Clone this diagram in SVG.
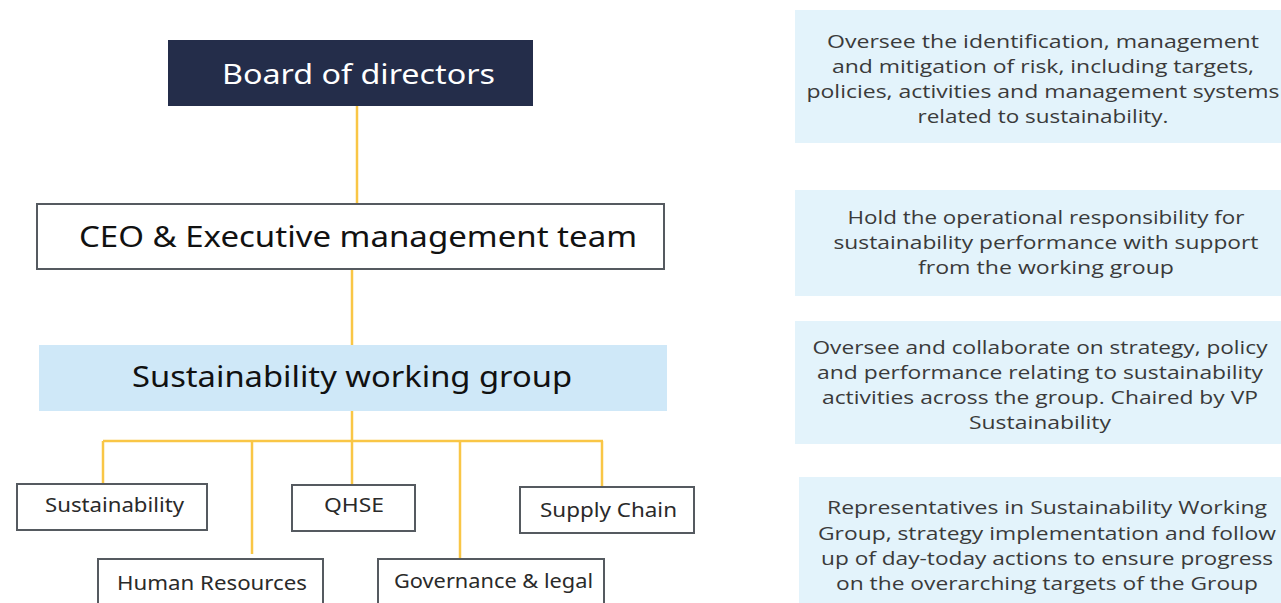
<svg xmlns="http://www.w3.org/2000/svg" width="1281" height="603" viewBox="0 0 1281 603">
  <style>
    .lbl { font-family: "Noto Sans", "Open Sans", sans-serif; fill: #111; }
    .box { fill: #ffffff; stroke: #555a60; stroke-width: 2; }
    .sub { font-family: "Noto Sans", "Open Sans", sans-serif; font-size: 19px; fill: #2a2a2a; }
    .note { fill: #e3f3fb; }
    .noteText { font-family: "Open Sans", "Noto Sans", sans-serif; font-size: 19px; fill: #3a3a3a; text-anchor: middle; }
    .link { fill: none; stroke: #f9c646; stroke-width: 2.5; }
  </style>

  <!-- connectors -->
  <g id="connectors">
    <path class="link" d="M357 106 V203"/>
    <path class="link" d="M352 269 V345"/>
    <path class="link" d="M352 411 V441"/>
    <path class="link" d="M103 441 H603"/>
    <path class="link" d="M103 441 V484"/>
    <path class="link" d="M252 441 V554"/>
    <path class="link" d="M352 441 V485"/>
    <path class="link" d="M460 441 V558"/>
    <path class="link" d="M602 441 V487"/>
  </g>

  <!-- hierarchy -->
  <g id="board">
    <rect x="168" y="40" width="365" height="66" fill="#242d4a"/>
    <text class="lbl" x="222" y="84" font-size="27" style="fill:#ffffff" textLength="273" lengthAdjust="spacingAndGlyphs">Board of directors</text>
  </g>
  <g id="ceo">
    <rect class="box" x="37" y="204" width="627" height="65"/>
    <text class="lbl" x="79" y="247" font-size="29" textLength="558" lengthAdjust="spacingAndGlyphs">CEO &amp; Executive management team</text>
  </g>
  <g id="working-group">
    <rect x="39" y="345" width="628" height="66" fill="#cfe8f8"/>
    <text class="lbl" x="132" y="387" font-size="29" textLength="440" lengthAdjust="spacingAndGlyphs">Sustainability working group</text>
  </g>
  <g id="sustainability">
    <rect class="box" x="17" y="484" width="190" height="46"/>
    <text class="sub" x="45" y="512" textLength="139" lengthAdjust="spacingAndGlyphs">Sustainability</text>
  </g>
  <g id="qhse">
    <rect class="box" x="292" y="485" width="123" height="46"/>
    <text class="sub" x="324" y="512" textLength="60" lengthAdjust="spacingAndGlyphs">QHSE</text>
  </g>
  <g id="supply-chain">
    <rect class="box" x="520" y="487" width="174" height="46"/>
    <text class="sub" x="540" y="517" textLength="137" lengthAdjust="spacingAndGlyphs">Supply Chain</text>
  </g>
  <g id="human-resources">
    <rect class="box" x="98" y="559" width="225" height="50"/>
    <text class="sub" x="117" y="590" textLength="190" lengthAdjust="spacingAndGlyphs">Human Resources</text>
  </g>
  <g id="governance">
    <rect class="box" x="378" y="559" width="226" height="50"/>
    <text class="sub" x="394" y="588" textLength="199" lengthAdjust="spacingAndGlyphs">Governance &amp; legal</text>
  </g>

  <!-- responsibility notes -->
  <g id="note-board">
    <rect class="note" x="795" y="10" width="486" height="133"/>
    <text class="noteText" x="1043" y="48" textLength="432" lengthAdjust="spacingAndGlyphs">Oversee the identification, management</text>
    <text class="noteText" x="1043" y="73" textLength="422" lengthAdjust="spacingAndGlyphs">and mitigation of risk, including targets,</text>
    <text class="noteText" x="1043" y="98" textLength="473" lengthAdjust="spacingAndGlyphs">policies, activities and management systems</text>
    <text class="noteText" x="1043" y="123" textLength="251" lengthAdjust="spacingAndGlyphs">related to sustainability.</text>
  </g>
  <g id="note-ceo">
    <rect class="note" x="795" y="190" width="486" height="106"/>
    <text class="noteText" x="1046" y="224" textLength="397" lengthAdjust="spacingAndGlyphs">Hold the operational responsibility for</text>
    <text class="noteText" x="1046" y="249" textLength="425" lengthAdjust="spacingAndGlyphs">sustainability performance with support</text>
    <text class="noteText" x="1046" y="274" textLength="256" lengthAdjust="spacingAndGlyphs">from the working group</text>
  </g>
  <g id="note-working-group">
    <rect class="note" x="795" y="321" width="486" height="123"/>
    <text class="noteText" x="1040" y="354" textLength="455" lengthAdjust="spacingAndGlyphs">Oversee and collaborate on strategy, policy</text>
    <text class="noteText" x="1040" y="379" textLength="446" lengthAdjust="spacingAndGlyphs">and performance relating to sustainability</text>
    <text class="noteText" x="1040" y="404" textLength="436" lengthAdjust="spacingAndGlyphs">activities across the group. Chaired by VP</text>
    <text class="noteText" x="1040" y="429" textLength="142" lengthAdjust="spacingAndGlyphs">Sustainability</text>
  </g>
  <g id="note-representatives">
    <rect class="note" x="799" y="477" width="482" height="126"/>
    <text class="noteText" x="1047" y="514" textLength="440" lengthAdjust="spacingAndGlyphs">Representatives in Sustainability Working</text>
    <text class="noteText" x="1047" y="540" textLength="458" lengthAdjust="spacingAndGlyphs">Group, strategy implementation and follow</text>
    <text class="noteText" x="1047" y="565" textLength="452" lengthAdjust="spacingAndGlyphs">up of day-today actions to ensure progress</text>
    <text class="noteText" x="1047" y="590" textLength="422" lengthAdjust="spacingAndGlyphs">on the overarching targets of the Group</text>
  </g>
</svg>
